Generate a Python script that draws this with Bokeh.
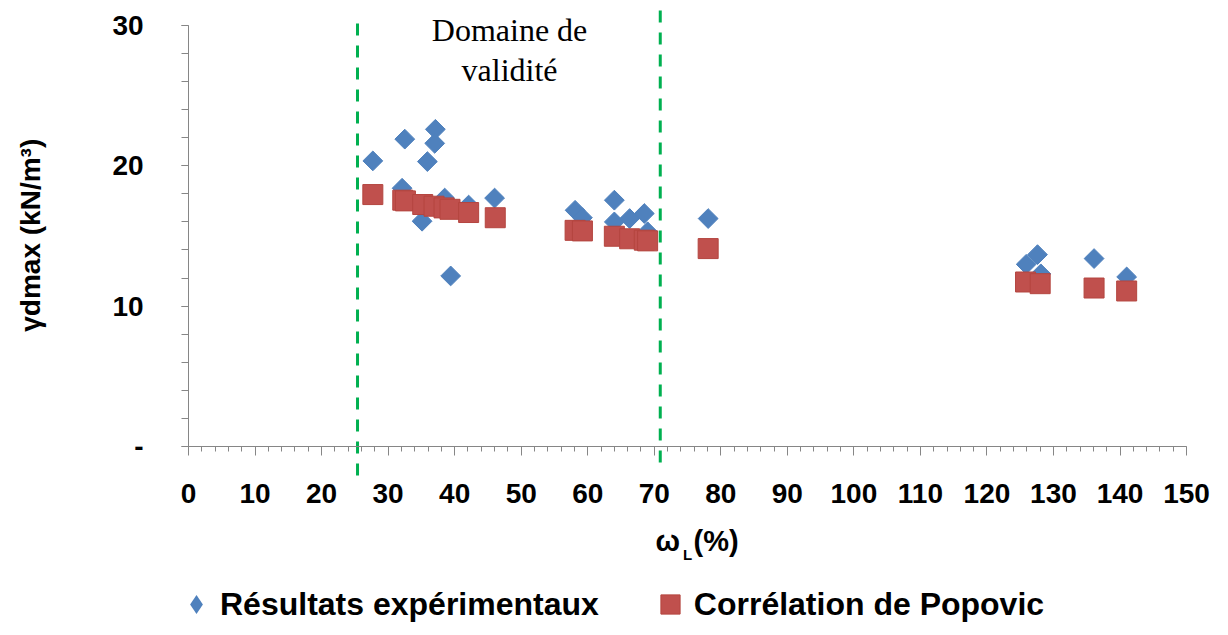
from math import pi

from bokeh.plotting import figure
from bokeh.models import Range1d, FixedTicker, Label, Legend, LegendItem
from bokeh.embed import file_html
from bokeh.resources import INLINE

# Résultats expérimentaux : limite de liquidité wL (%) et poids volumique sec max (kN/m3)
exp_wl = [27.7, 32.5, 37.1, 37.0, 35.9, 32.1, 38.5, 35.1, 42.1, 46.0, 39.4,
          58.1, 59.2, 64.0, 64.0, 66.3, 68.5, 69.0, 78.1,
          125.9, 127.6, 128.1, 136.1, 141.0]
exp_gd = [20.35, 21.9, 22.6, 21.6, 20.3, 18.4, 17.7, 16.05, 17.2, 17.7, 12.15,
          16.83, 16.3, 17.55, 16.0, 16.24, 16.6, 15.3, 16.24,
          12.98, 13.67, 12.3, 13.39, 12.08]

# Corrélation de Popovic
pop_wl = [27.7, 32.2, 32.6, 35.2, 36.9, 38.4, 39.3, 42.1, 46.1,
          58.1, 59.2, 64.0, 66.3, 68.5, 69.0, 78.1,
          125.8, 128.0, 136.1, 141.0]
pop_gd = [17.95, 17.55, 17.5, 17.24, 17.12, 17.0, 16.9, 16.67, 16.3,
          15.4, 15.36, 14.98, 14.8, 14.7, 14.65, 14.1,
          11.72, 11.6, 11.29, 11.08]

# domaine de validité (bornes en wL) et étendue verticale des traits
domain_wl = [25.4, 70.9]
domain_bottom = [-2.07, -1.15]
domain_top = [30.5, 31.2]

x_ticks = list(range(0, 151, 10))
y_ticks = [0, 10, 20, 30]

BLUE = "#4F81BD"
RED = "#C0504D"
GREEN = "#00B050"
AXIS = "#868686"
FONT = "Liberation Sans"

# le cadre couvre toute la figure, les axes sont fixés en x=0 et y=0
p = figure(width=1212, height=625, output_backend="svg", toolbar_location=None,
           x_range=Range1d(-28.26, 153.9), y_range=Range1d(-12.76, 31.78),
           min_border=0, outline_line_color=None)
p.grid.visible = False

xa = p.xaxis[0]
xa.fixed_location = 0
xa.bounds = (0, 150)
xa.ticker = FixedTicker(ticks=x_ticks, minor_ticks=list(range(0, 151, 2)))
xa.major_tick_out = 9
xa.minor_tick_out = 5
xa.major_label_standoff = 29

ya = p.yaxis[0]
ya.fixed_location = 0
ya.bounds = (0, 30)
ya.ticker = FixedTicker(ticks=y_ticks, minor_ticks=list(range(0, 31, 2)))
ya.major_label_overrides = {0: "-"}
ya.major_tick_out = 7
ya.minor_tick_out = 7
ya.major_label_standoff = 38

for ax in (xa, ya):
    ax.major_tick_in = 0
    ax.minor_tick_in = 0
    ax.axis_line_color = AXIS
    ax.major_tick_line_color = AXIS
    ax.minor_tick_line_color = AXIS
    ax.major_label_text_font = FONT
    ax.major_label_text_font_style = "bold"
    ax.major_label_text_font_size = "28px"
    ax.major_label_text_color = "black"

p.segment(x0=domain_wl, y0=domain_bottom, x1=domain_wl, y1=domain_top,
          line_color=GREEN, line_width=3, line_dash="12 10")

r_exp = p.scatter(exp_wl, exp_gd, marker="square", size=14, angle=pi / 4,
                  fill_color=BLUE, line_color=BLUE)
r_pop = p.scatter(pop_wl, pop_gd, marker="square", size=20,
                  fill_color=RED, line_color="#B4453F", line_width=1)

# copie de taille nulle : sert seulement au losange de la légende
r_exp_key = p.scatter(exp_wl, exp_gd, marker="diamond", size=0,
                      fill_color=BLUE, line_color=None)

for txt, y in (("Domaine de", 28.4), ("validité", 25.55)):
    p.add_layout(Label(x=48.25, y=y, text=txt, text_align="center",
                       text_font="Liberation Serif", text_font_size="32px",
                       text_color="black"))

# titres des axes
p.add_layout(Label(x=-23.75, y=15.05, text="γdmax (kN/m³)", angle=pi / 2,
                   text_align="center", text_baseline="middle", text_color="black",
                   text_font=FONT, text_font_style="bold", text_font_size="28px"))
p.add_layout(Label(x=70.2, y=-7.85, text="ω", text_font=FONT, text_color="black",
                   text_font_style="bold", text_font_size="29px"))
p.add_layout(Label(x=74.3, y=-8.3, text="L", text_font=FONT, text_color="black",
                   text_font_style="bold", text_font_size="15px"))
p.add_layout(Label(x=75.9, y=-7.85, text="(%)", text_font=FONT, text_color="black",
                   text_font_style="bold", text_font_size="29px"))

legend = Legend(items=[LegendItem(label="Résultats expérimentaux", renderers=[r_exp_key]),
                       LegendItem(label="Corrélation de Popovic", renderers=[r_pop])],
                orientation="horizontal", location=(172, -3), padding=0, margin=0,
                spacing=47, label_standoff=-8, glyph_width=48, glyph_height=48,
                label_text_font=FONT, label_text_font_style="bold",
                label_text_font_size="32px", label_text_color="black",
                border_line_color=None, background_fill_alpha=0)
p.add_layout(legend)

open("out.html", "w").write(file_html(p, INLINE))
